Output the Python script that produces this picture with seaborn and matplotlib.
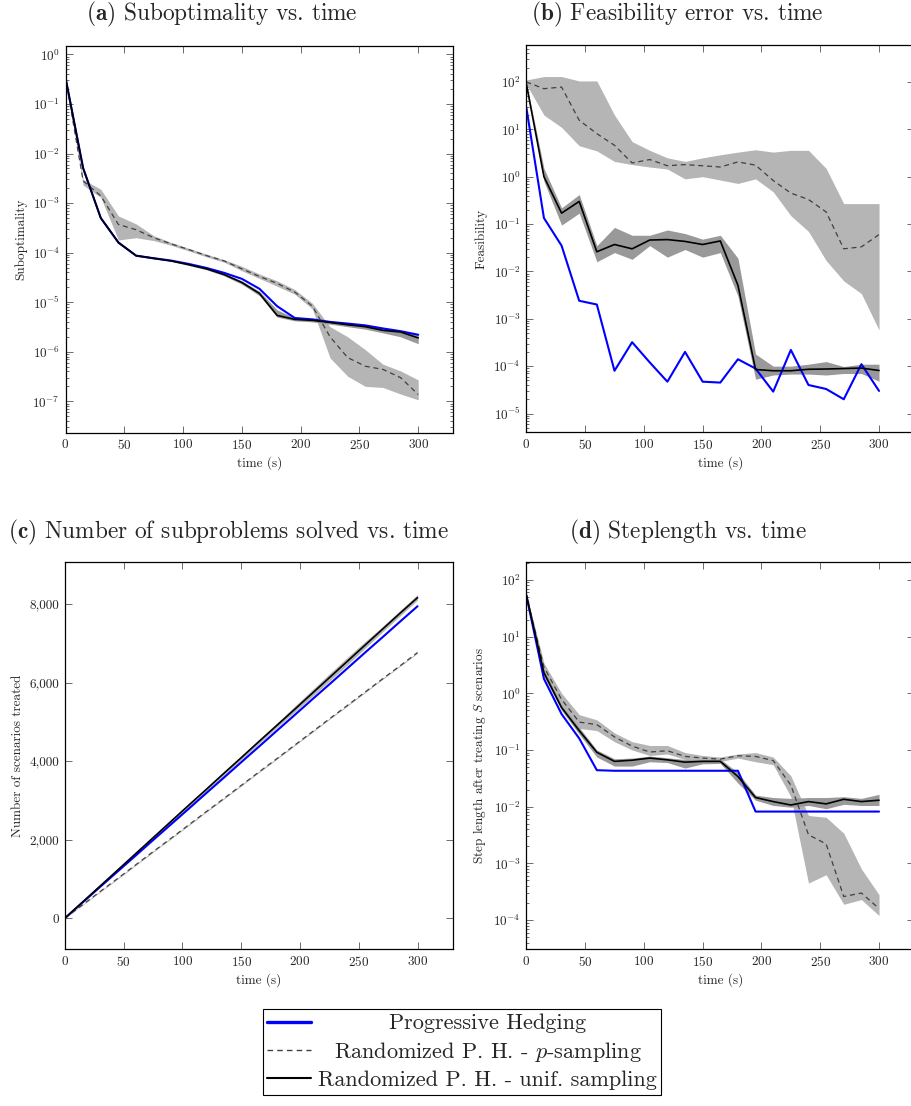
import matplotlib
matplotlib.use("Agg")
import matplotlib.pyplot as plt
import matplotlib.ticker as mticker
from matplotlib.lines import Line2D
import seaborn as sns

# --- data (time in seconds) ---
time_s = [0, 15, 30, 45, 60, 75, 90, 105, 120, 135, 150,
          165, 180, 195, 210, 225, 240, 255, 270, 285, 300]

# (a) suboptimality
sub_ph = [0.34, 5.1e-3, 5.0e-4, 1.6e-4, 8.7e-5, 7.7e-5, 6.9e-5, 5.9e-5, 4.9e-5, 3.9e-5, 2.96e-5,
          1.86e-5, 8.3e-6, 4.8e-6, 4.5e-6, 4.0e-6, 3.7e-6, 3.4e-6, 2.95e-6, 2.6e-6, 2.2e-6]
sub_p = [0.34, 2.8e-3, 1.4e-3, 3.7e-4, 2.9e-4, 2.0e-4, 1.5e-4, 1.15e-4, 8.7e-5, 6.8e-5, 4.7e-5,
         3.3e-5, 2.4e-5, 1.6e-5, 8.3e-6, 2.0e-6, 7.6e-7, 5.1e-7, 4.4e-7, 3.0e-7, 1.37e-7]
sub_p_lo = [0.32, 2.3e-3, 1.3e-3, 1.8e-4, 2.0e-4, 1.75e-4, 1.4e-4, 1.08e-4, 8.2e-5, 6.4e-5, 4.3e-5,
            3.0e-5, 2.1e-5, 1.45e-5, 7.3e-6, 7.5e-7, 3.2e-7, 2.0e-7, 1.9e-7, 1.4e-7, 1.07e-7]
sub_p_hi = [0.36, 3.0e-3, 1.9e-3, 5.5e-4, 3.8e-4, 2.2e-4, 1.6e-4, 1.22e-4, 9.3e-5, 7.2e-5, 5.3e-5,
            3.7e-5, 2.7e-5, 1.8e-5, 9.5e-6, 3.2e-6, 2.0e-6, 1.1e-6, 5.6e-7, 4.1e-7, 2.7e-7]
sub_u = [0.34, 5.0e-3, 5.0e-4, 1.6e-4, 8.7e-5, 7.7e-5, 6.8e-5, 5.7e-5, 4.7e-5, 3.6e-5, 2.5e-5,
         1.5e-5, 5.4e-6, 4.5e-6, 4.3e-6, 3.9e-6, 3.5e-6, 3.2e-6, 2.7e-6, 2.5e-6, 1.9e-6]
sub_u_lo = [0.33, 4.7e-3, 4.7e-4, 1.5e-4, 8.4e-5, 7.4e-5, 6.6e-5, 5.5e-5, 4.5e-5, 3.4e-5, 2.3e-5,
            1.35e-5, 5.0e-6, 4.2e-6, 4.0e-6, 3.6e-6, 3.2e-6, 2.85e-6, 2.4e-6, 2.0e-6, 1.45e-6]
sub_u_hi = [0.35, 5.3e-3, 5.3e-4, 1.7e-4, 9.0e-5, 8.0e-5, 7.1e-5, 6.0e-5, 5.0e-5, 3.8e-5, 2.7e-5,
            1.65e-5, 7.0e-6, 4.8e-6, 4.5e-6, 4.1e-6, 3.7e-6, 3.4e-6, 2.95e-6, 2.6e-6, 2.2e-6]

# (b) feasibility error
feas_ph = [29, 0.134, 0.035, 2.4e-3, 2.0e-3, 8.0e-5, 3.2e-4, 1.2e-4, 4.7e-5, 2.0e-4, 4.7e-5,
           4.5e-5, 1.4e-4, 8.9e-5, 2.9e-5, 2.2e-4, 4.0e-5, 3.3e-5, 2.0e-5, 1.1e-4, 3.0e-5]
feas_p = [100, 72, 78, 15.5, 8.1, 4.6, 1.95, 2.3, 1.7, 1.8, 1.7,
          1.6, 2.05, 1.75, 0.83, 0.45, 0.33, 0.18, 0.030, 0.033, 0.060]
feas_p_lo = [90, 20, 11, 4.5, 3.5, 2.1, 1.8, 1.6, 1.45, 0.9, 1.0,
             0.85, 0.72, 0.9, 0.48, 0.15, 0.07, 0.017, 6.3e-3, 3.4e-3, 5.8e-4]
feas_p_hi = [110, 130, 130, 105, 105, 20, 5.5, 3.6, 2.5, 2.1, 2.5,
             2.9, 3.3, 3.7, 3.3, 3.6, 3.6, 1.5, 0.27, 0.27, 0.27]
feas_u = [92, 1.0, 0.17, 0.30, 0.026, 0.037, 0.030, 0.046, 0.047, 0.043, 0.037,
          0.044, 5.1e-3, 8.5e-5, 8.0e-5, 8.0e-5, 8.6e-5, 8.7e-5, 8.9e-5, 9.1e-5, 8.1e-5]
feas_u_lo = [90, 0.8, 0.095, 0.17, 0.016, 0.025, 0.018, 0.035, 0.020, 0.029, 0.020,
             0.025, 3.0e-3, 5.3e-5, 6.5e-5, 6.8e-5, 6.8e-5, 6.5e-5, 7.0e-5, 7.0e-5, 4.8e-5]
feas_u_hi = [100, 1.5, 0.22, 0.42, 0.035, 0.085, 0.058, 0.058, 0.075, 0.063, 0.048,
             0.058, 0.019, 1.8e-4, 1.0e-4, 1.0e-4, 1.1e-4, 1.25e-4, 9.8e-5, 1.1e-4, 1.1e-4]

# (c) number of scenarios treated
cnt_ph = [0, 400, 800, 1195, 1590, 1990, 2385, 2780, 3180, 3575, 3975,
          4370, 4770, 5165, 5565, 5960, 6360, 6760, 7155, 7555, 7950]
cnt_p = [0, 340, 680, 1015, 1355, 1695, 2030, 2370, 2710, 3045, 3385,
         3725, 4060, 4400, 4740, 5080, 5415, 5755, 6095, 6430, 6770]
cnt_p_lo = [0, 330, 668, 1000, 1340, 1680, 2015, 2355, 2695, 3030, 3370,
            3710, 4045, 4385, 4725, 5065, 5400, 5740, 6080, 6415, 6755]
cnt_p_hi = [0, 350, 692, 1030, 1370, 1710, 2045, 2385, 2725, 3060, 3400,
            3740, 4075, 4415, 4755, 5095, 5430, 5770, 6110, 6445, 6785]
cnt_u = [0, 410, 820, 1230, 1640, 2050, 2460, 2870, 3275, 3685, 4090,
         4500, 4905, 5310, 5720, 6130, 6540, 6950, 7360, 7770, 8170]
cnt_u_lo = [0, 395, 800, 1205, 1610, 2015, 2420, 2825, 3230, 3635, 4040,
            4445, 4850, 5240, 5640, 6040, 6450, 6870, 7290, 7700, 8110]
cnt_u_hi = [0, 425, 840, 1255, 1670, 2085, 2500, 2915, 3320, 3735, 4140,
            4555, 4965, 5390, 5810, 6230, 6640, 7040, 7430, 7840, 8250]

# (d) step length
step_ph = [54, 1.8, 0.43, 0.16, 0.044, 0.043, 0.043, 0.043, 0.043, 0.043, 0.043,
           0.043, 0.043, 8.2e-3, 8.2e-3, 8.2e-3, 8.2e-3, 8.2e-3, 8.2e-3, 8.2e-3, 8.2e-3]
step_p = [54, 2.9, 0.78, 0.31, 0.28, 0.17, 0.117, 0.092, 0.097, 0.077, 0.072,
          0.069, 0.079, 0.077, 0.065, 0.024, 3.2e-3, 2.2e-3, 2.6e-4, 3.0e-4, 1.6e-4]
step_p_lo = [50, 2.5, 0.6, 0.24, 0.22, 0.14, 0.10, 0.08, 0.085, 0.068, 0.065,
             0.063, 0.072, 0.062, 0.055, 0.015, 4.5e-4, 6.3e-4, 1.9e-4, 2.3e-4, 1.2e-4]
step_p_hi = [58, 3.4, 1.0, 0.42, 0.34, 0.20, 0.14, 0.12, 0.12, 0.09, 0.08,
             0.075, 0.085, 0.09, 0.075, 0.035, 7.0e-3, 6.5e-3, 3.4e-3, 8.0e-4, 2.8e-4]
step_u = [54, 2.3, 0.56, 0.22, 0.091, 0.063, 0.066, 0.072, 0.067, 0.061, 0.063,
          0.063, 0.034, 0.0145, 0.0123, 0.0107, 0.0123, 0.0112, 0.0135, 0.0123, 0.013]
step_u_lo = [50, 2.0, 0.50, 0.19, 0.075, 0.052, 0.052, 0.062, 0.060, 0.048, 0.057,
             0.058, 0.026, 0.013, 0.0105, 0.0098, 0.0105, 0.0092, 0.011, 0.0105, 0.0105]
step_u_hi = [58, 2.6, 0.62, 0.25, 0.10, 0.070, 0.072, 0.078, 0.073, 0.068, 0.068,
             0.069, 0.040, 0.016, 0.0145, 0.014, 0.0145, 0.0145, 0.015, 0.014, 0.0165]

labels = ["Progressive Hedging",
          r"Randomized P. H. - $p$-sampling",
          "Randomized P. H. - unif. sampling"]

BLUE = "#0000ff"
DASH = "#404040"
LIGHT_BAND = "#b5b5b5"
DARK_BAND = "#999999"

sns.set_theme(style="ticks")
plt.rcParams["font.family"] = "serif"
plt.rcParams["font.serif"] = ["cmr10", "DejaVu Serif"]
plt.rcParams["mathtext.fontset"] = "cm"
plt.rcParams["axes.formatter.use_mathtext"] = True
plt.rcParams["axes.unicode_minus"] = False

fig = plt.figure(figsize=(9.12, 11.06), dpi=100)
W, H = 912.0, 1106.0


def make_axes(left_px, top_px, bottom_px, width_px=388.0):
    return fig.add_axes([left_px / W, 1 - bottom_px / H, width_px / W, (bottom_px - top_px) / H])


ax_a = make_axes(65.5, 45.5, 432.5)
ax_b = make_axes(526.3, 45.0, 432.0)
ax_c = make_axes(64.8, 562.3, 949.3)
ax_d = make_axes(526.3, 562.3, 949.0)


def draw_panel(ax, ph, p, p_lo, p_hi, u, u_lo, u_hi, log=True):
    ax.fill_between(time_s, p_lo, p_hi, color=LIGHT_BAND, lw=0)
    ax.fill_between(time_s, u_lo, u_hi, color=DARK_BAND if log else LIGHT_BAND, lw=0)
    sns.lineplot(x=time_s, y=ph, ax=ax, color=BLUE, lw=1.5)
    sns.lineplot(x=time_s, y=p, ax=ax, color=DASH, lw=0.9, ls=(0, (4, 3)))
    sns.lineplot(x=time_s, y=u, ax=ax, color="black", lw=1.2)
    if log:
        ax.set_yscale("log")
        ax.yaxis.set_major_locator(mticker.LogLocator(base=10, numticks=20))
        ax.yaxis.set_minor_locator(mticker.LogLocator(base=10, subs=range(2, 10), numticks=20))
        ax.yaxis.set_minor_formatter(mticker.NullFormatter())
    ax.set_xlim(0, 330)
    ax.set_xticks([0, 50, 100, 150, 200, 250, 300])
    ax.set_xlabel("time (s)", fontsize=9.5, labelpad=3)
    ax.tick_params(which="both", direction="in", top=True, right=True,
                   labelsize=9.5, color="#555555", width=0.6, pad=4)
    ax.tick_params(which="major", length=5)
    ax.tick_params(which="minor", length=2.5)
    for sp in ax.spines.values():
        sp.set_linewidth(0.9)
        sp.set_color("black")


draw_panel(ax_a, sub_ph, sub_p, sub_p_lo, sub_p_hi, sub_u, sub_u_lo, sub_u_hi)
ax_a.set_ylim(10 ** -7.63, 10 ** 0.18)
ax_a.set_ylabel("Suboptimality", fontsize=9.5)

draw_panel(ax_b, feas_ph, feas_p, feas_p_lo, feas_p_hi, feas_u, feas_u_lo, feas_u_hi)
ax_b.set_ylim(10 ** -5.39, 10 ** 2.78)
ax_b.set_ylabel("Feasibility", fontsize=9.5)

draw_panel(ax_c, cnt_ph, cnt_p, cnt_p_lo, cnt_p_hi, cnt_u, cnt_u_lo, cnt_u_hi, log=False)
ax_c.set_ylim(-790, 9070)
ax_c.set_yticks([0, 2000, 4000, 6000, 8000])
ax_c.yaxis.set_major_formatter(mticker.FuncFormatter(lambda v, _: f"{v:,.0f}"))
ax_c.set_ylabel("Number of scenarios treated", fontsize=9.5)

draw_panel(ax_d, step_ph, step_p, step_p_lo, step_p_hi, step_u, step_u_lo, step_u_hi)
ax_d.set_ylim(10 ** -4.51, 10 ** 2.31)
ax_d.set_ylabel(r"Step length after treating $S$ scenarios", fontsize=9.5)

# sub-captions
caps = [(222, 14, "(a)", "Suboptimality vs. time"),
        (677, 14, "(b)", "Feasibility error vs. time"),
        (228, 532, "(c)", "Number of subproblems solved vs. time"),
        (688, 532, "(d)", "Steplength vs. time")]
for x, y, tag, txt in caps:
    fig.text(x / W, 1 - y / H, r"$\mathbf{" + tag + "}$ " + txt,
             ha="center", va="center", fontsize=16.8)

handles = [Line2D([], [], color=BLUE, lw=2.4),
           Line2D([], [], color=DASH, lw=1.0, ls=(0, (4, 3))),
           Line2D([], [], color="black", lw=1.5)]
leg = fig.legend(handles, labels, loc="center", bbox_to_anchor=(462 / W, 1 - 1052 / H),
                 fontsize=16, frameon=True, fancybox=False, edgecolor="black",
                 framealpha=1, handlelength=2.0, handletextpad=0.3,
                 labelspacing=0.3, borderpad=0.2, borderaxespad=0)
leg.get_frame().set_linewidth(0.8)

# centre the legend entries like pgfplots does
fig.canvas.draw()
rend = fig.canvas.get_renderer()
texts = leg.get_texts()
widths = [t.get_window_extent(rend).width for t in texts]
for t, w in zip(texts, widths):
    t.set_x((max(widths) - w) / 2)

fig.savefig("out.png", dpi=100)
